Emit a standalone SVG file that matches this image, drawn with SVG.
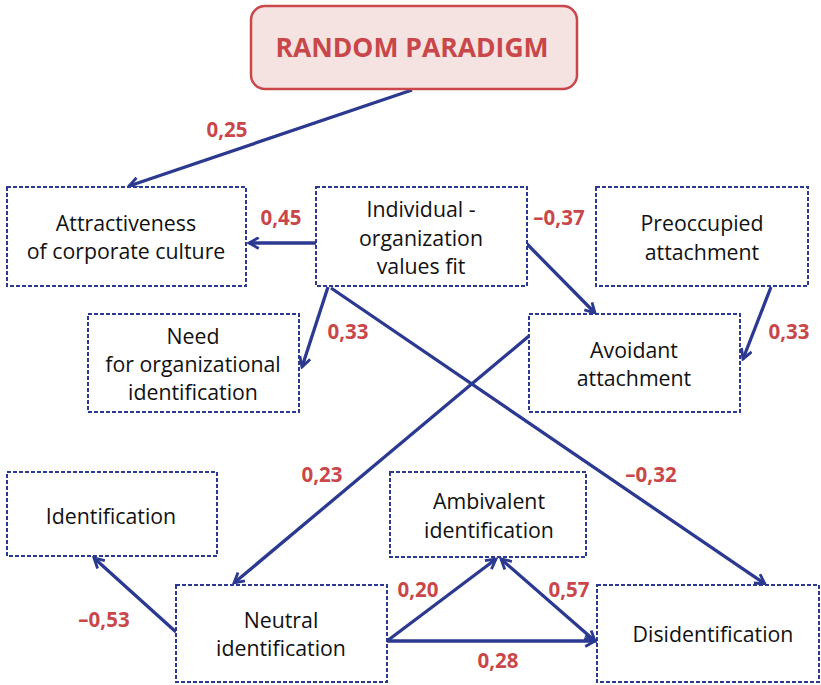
<svg xmlns="http://www.w3.org/2000/svg" width="821" height="685" viewBox="0 0 821 685">
<style>
.box{fill:#fff;stroke:#2b3990;stroke-width:2;stroke-dasharray:4 2}
.t{font-family:"Open Sans","Noto Sans",sans-serif;font-size:21.3px;fill:#111;text-anchor:middle}
.lbl{font-family:"Open Sans","Noto Sans",sans-serif;font-size:20.5px;font-weight:bold;fill:#c9474a;text-anchor:middle}
.c{stroke:#2b3990;stroke-width:3.3;fill:none}
</style>
<defs>
<marker id="ah" viewBox="0 0 12 12" refX="10" refY="6" markerWidth="13" markerHeight="13" markerUnits="userSpaceOnUse" orient="auto-start-reverse">
<path d="M1,1 L10,6 L1,11" fill="none" stroke="#2b3990" stroke-width="2.6" stroke-linejoin="miter"/>
</marker>
</defs>
<rect width="821" height="685" fill="#fff"/>
<g id="connectors">
<line class="c" x1="412" y1="90" x2="129" y2="186" marker-end="url(#ah)"/>
<line class="c" x1="316" y1="243" x2="249" y2="243" marker-end="url(#ah)"/>
<line class="c" x1="328" y1="287" x2="302" y2="367" marker-end="url(#ah)"/>
<line class="c" x1="527" y1="244" x2="595" y2="313" marker-end="url(#ah)"/>
<line class="c" x1="331" y1="288" x2="765" y2="584" marker-end="url(#ah)"/>
<line class="c" x1="771" y1="287" x2="743" y2="359" marker-end="url(#ah)"/>
<line class="c" x1="529" y1="336" x2="234" y2="583" marker-end="url(#ah)"/>
<line class="c" x1="176" y1="632" x2="94" y2="558" marker-end="url(#ah)"/>
<line class="c" x1="387" y1="641" x2="496" y2="559" marker-end="url(#ah)"/>
<line class="c" x1="501" y1="559" x2="595" y2="641" marker-start="url(#ah)" marker-end="url(#ah)"/>
<line class="c" x1="387" y1="641" x2="595" y2="641" marker-end="url(#ah)"/>
<text class="lbl" x="227" y="137">0,25</text>
<text class="lbl" x="281" y="225">0,45</text>
<text class="lbl" x="348" y="339">0,33</text>
<text class="lbl" x="559" y="225">–0,37</text>
<text class="lbl" x="789" y="339">0,33</text>
<text class="lbl" x="322" y="482">0,23</text>
<text class="lbl" x="651" y="482">–0,32</text>
<text class="lbl" x="104" y="627">–0,53</text>
<text class="lbl" x="418" y="597">0,20</text>
<text class="lbl" x="569" y="597">0,57</text>
<text class="lbl" x="498" y="668">0,28</text>
</g>
<g id="random">
<rect x="251" y="6" width="326" height="83" rx="14" fill="#f5e3e1" stroke="#c9474a" stroke-width="2.5"/>
<text x="412" y="57" font-family="'Open Sans','Noto Sans',sans-serif" font-size="26.5" font-weight="bold" fill="#c9474a" text-anchor="middle">RANDOM PARADIGM</text>
</g>
<g id="attractiveness">
<rect class="box" x="7" y="187" width="239" height="99"/>
<text class="t" x="126" y="231">Attractiveness</text>
<text class="t" x="126" y="259">of corporate culture</text>
</g>
<g id="fit">
<rect class="box" x="316" y="187" width="211" height="99"/>
<text class="t" x="421" y="217">Individual -</text>
<text class="t" x="421" y="246">organization</text>
<text class="t" x="421" y="274">values fit</text>
</g>
<g id="preoccupied">
<rect class="box" x="596" y="187" width="212" height="99"/>
<text class="t" x="702" y="231">Preoccupied</text>
<text class="t" x="702" y="260">attachment</text>
</g>
<g id="need">
<rect class="box" x="88" y="314" width="211" height="98"/>
<text class="t" x="193" y="344">Need</text>
<text class="t" x="193" y="372">for organizational</text>
<text class="t" x="193" y="400">identification</text>
</g>
<g id="avoidant">
<rect class="box" x="529" y="314" width="211" height="98"/>
<text class="t" x="634" y="358">Avoidant</text>
<text class="t" x="634" y="386">attachment</text>
</g>
<g id="identification">
<rect class="box" x="7" y="472" width="210" height="84"/>
<text class="t" x="111" y="524">Identification</text>
</g>
<g id="ambivalent">
<rect class="box" x="390" y="472" width="196" height="85"/>
<text class="t" x="489" y="509">Ambivalent</text>
<text class="t" x="489" y="538">identification</text>
</g>
<g id="neutral">
<rect class="box" x="176" y="585" width="211" height="97"/>
<text class="t" x="281" y="628">Neutral</text>
<text class="t" x="281" y="656">identification</text>
</g>
<g id="disidentification">
<rect class="box" x="597" y="585" width="222" height="97"/>
<text class="t" x="713" y="642">Disidentification</text>
</g>
</svg>
